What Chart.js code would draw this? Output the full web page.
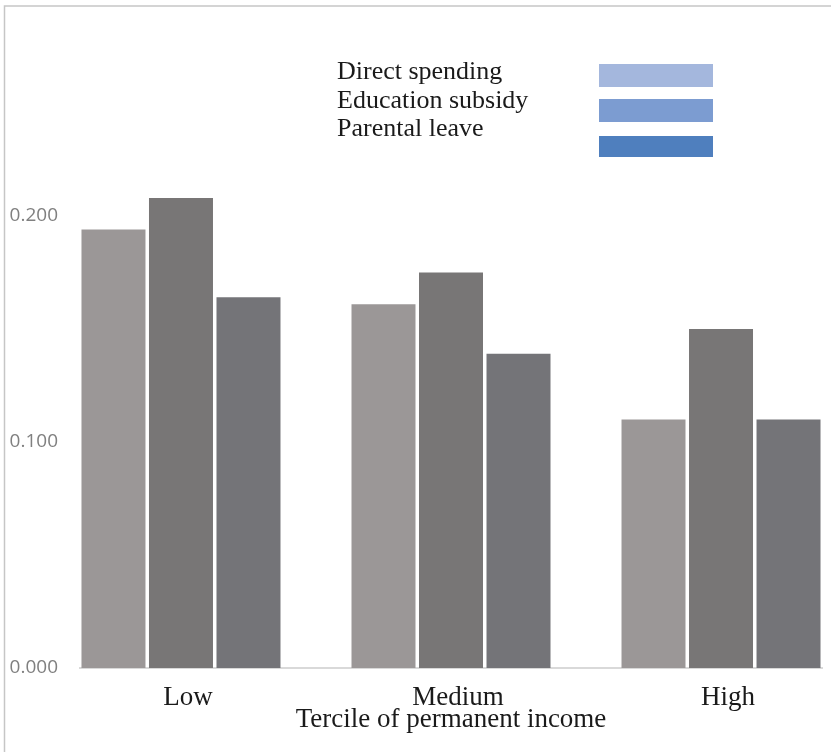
<!DOCTYPE html>
<html>
<head>
<meta charset="utf-8">
<script src="https://cdn.jsdelivr.net/npm/chart.js@4.4.1/dist/chart.umd.min.js"></script>
<style>
  html, body { margin: 0; padding: 0; background: #ffffff; }
  canvas { display: block; }
</style>
</head>
<body>
<canvas id="myChart" width="831" height="752"></canvas>
<script>
// chart values
const tercileLabels = ['Low', 'Medium', 'High'];
const seriesNames = ['Direct spending', 'Education subsidy', 'Parental leave'];
const directSpending = [0.194, 0.161, 0.110];
const educationSubsidy = [0.208, 0.175, 0.150];
const parentalLeave = [0.164, 0.139, 0.110];
const yTicks = [0, 0.1, 0.2];

// bars are grey, but the legend keys are blue in the original
const barColors = ['#9b9797', '#787676', '#747478'];
const legendColors = ['#a4b7dd', '#7c9cd1', '#4f7fbe'];

const serifFont = '"Liberation Serif", "Times New Roman", serif';

function toPoints(values) {
  return values.map(function (v, i) { return { x: i, y: v }; });
}

// light frame on top and left, like the source figure
const framePlugin = {
  id: 'frame',
  beforeDraw: function (chart) {
    let ctx = chart.ctx;
    ctx.save();
    ctx.fillStyle = '#ffffff';
    ctx.fillRect(0, 0, chart.width, chart.height);
    ctx.strokeStyle = '#c6c6c6';
    ctx.lineWidth = 1.5;
    ctx.beginPath();
    ctx.moveTo(4.5, chart.height);
    ctx.lineTo(4.5, 6);
    ctx.lineTo(chart.width, 6);
    ctx.stroke();
    ctx.restore();
  }
};

// legend: text first, key box to the right
const legendPlugin = {
  id: 'sideLegend',
  afterDraw: function (chart) {
    let ctx = chart.ctx;
    let rowsY = [72, 101, 129.5];
    let boxes = [[64, 23], [99, 23], [136, 21]];
    ctx.save();
    ctx.font = '26px ' + serifFont;
    ctx.textBaseline = 'middle';
    ctx.textAlign = 'left';
    for (let i = 0; i < seriesNames.length; i++) {
      ctx.fillStyle = '#1a1a1a';
      ctx.fillText(seriesNames[i], 337, rowsY[i]);
      ctx.fillStyle = legendColors[i];
      ctx.fillRect(599, boxes[i][0], 114, boxes[i][1]);
    }
    ctx.restore();
  }
};

const ctx = document.getElementById('myChart').getContext('2d');
const chart = new Chart(ctx, {
  type: 'bar',
  data: {
    datasets: [
      { label: seriesNames[0], data: toPoints(directSpending), backgroundColor: barColors[0] },
      { label: seriesNames[1], data: toPoints(educationSubsidy), backgroundColor: barColors[1] },
      { label: seriesNames[2], data: toPoints(parentalLeave), backgroundColor: barColors[2] }
    ]
  },
  options: {
    responsive: false,
    animation: false,
    devicePixelRatio: 1,
    layout: { padding: { top: 103, left: 4, right: 9, bottom: 0 } },
    datasets: {
      bar: { categoryPercentage: 0.75, barPercentage: 0.948 }
    },
    plugins: {
      legend: { display: false },
      tooltip: { enabled: false }
    },
    scales: {
      x: {
        type: 'linear',
        offset: false,
        min: -0.374,
        max: 2.374,
        grid: { display: false, drawTicks: false },
        border: { display: true, color: '#d9d9d9', width: 2 },
        afterBuildTicks: function (scale) {
          scale.ticks = tercileLabels.map(function (l, i) { return { value: i }; });
        },
        afterFit: function (scale) { scale.height = 84; },
        ticks: {
          callback: function (v) { return tercileLabels[v]; },
          font: { family: serifFont, size: 27, lineHeight: 1.2 },
          color: '#1a1a1a',
          padding: 14,
          labelOffset: 7,
          autoSkip: false,
          maxRotation: 0
        },
        title: {
          display: true,
          text: 'Tercile of permanent income',
          font: { family: serifFont, size: 27, lineHeight: 1.2 },
          color: '#1a1a1a',
          padding: { top: 0, bottom: 16 }
        }
      },
      y: {
        min: 0,
        max: 0.25,
        grid: { display: false, drawTicks: false },
        border: { display: false },
        afterBuildTicks: function (scale) {
          scale.ticks = yTicks.map(function (v) { return { value: v }; });
        },
        afterFit: function (scale) { scale.width = 76; },
        ticks: {
          callback: function (v) { return v.toFixed(3); },
          font: { family: '"Open Sans", sans-serif', size: 19 },
          color: '#808080',
          padding: 22
        }
      }
    }
  },
  plugins: [framePlugin, legendPlugin]
});
</script>
</body>
</html>
